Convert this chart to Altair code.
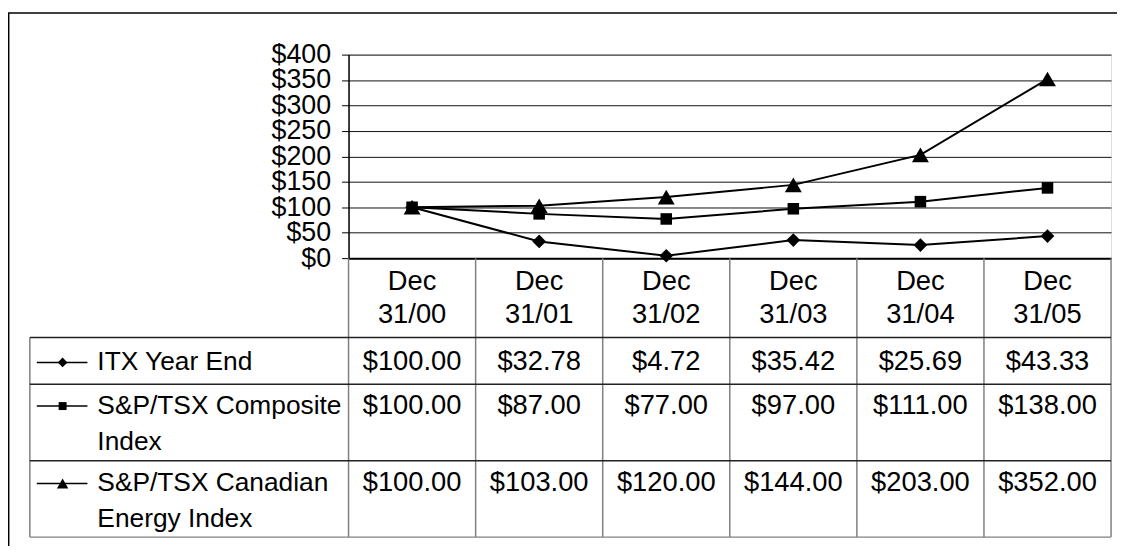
import altair as alt
import pandas as pd

# ---------------- data ----------------
dates = ["Dec 31/00", "Dec 31/01", "Dec 31/02", "Dec 31/03", "Dec 31/04", "Dec 31/05"]
series = ["ITX Year End", "S&P/TSX Composite Index", "S&P/TSX Canadian Energy Index"]
legend_labels = ["ITX Year End", "S&P/TSX Composite\nIndex", "S&P/TSX Canadian\nEnergy Index"]
itx = [100.00, 32.78, 4.72, 35.42, 25.69, 43.33]
composite = [100.00, 87.00, 77.00, 97.00, 111.00, 138.00]
energy = [100.00, 103.00, 120.00, 144.00, 203.00, 352.00]
y_ticks = [0, 50, 100, 150, 200, 250, 300, 350, 400]
shapes = ["diamond", "square", "triangle-up"]

values_by_series = [itx, composite, energy]
df = pd.DataFrame(
    [{"series": s, "date": d, "value": v}
     for s, vals in zip(series, values_by_series)
     for d, v in zip(dates, vals)]
)
df_dates = pd.DataFrame({"date": dates})
df_leg = pd.DataFrame({"series": series, "label": legend_labels})
one = pd.DataFrame({"k": [0]})

# ---------------- layout / style (px, relative to plot area top-left) ----------------
FONT = "Liberation Sans"
FS_AXIS = 27
FS_CELL = 27.5
FS_LEG = 26.5
W, H = 768, 205
STEP = W / len(dates)
HEADER_Y = 229
ROW_Y = [310, 354, 432]          # centre of first text line per row
ROW_LINES = [285, 332, 409]      # dark horizontal table lines
TABLE_BOTTOM = 486
TABLE_LEFT = -321
LEG_LINE = (-314, -263)
LEG_MARK_X = -288
LEG_TEXT_X = -253
LH = 36
PLOT_SIZES = [190, 135, 290]
LEG_SIZES = [95, 64, 130]

xscale = alt.Scale(type="point", domain=dates, padding=0.5)
xaxis = alt.Axis(labels=False, ticks=False, title=None, grid=False,
                 domainColor="black", domainWidth=2)
def X():
    return alt.X("date:N", scale=xscale, axis=xaxis, sort=dates)

yaxis = alt.Axis(values=y_ticks, format="$,.0f", labelFontSize=FS_AXIS, labelFont=FONT,
                 labelColor="black", labelOverlap=False, labelFlush=False,
                 labelPadding=11, tickSize=7, tickColor="black", tickWidth=1,
                 domainColor="black", domainWidth=1.5, gridColor="#111",
                 gridWidth=1, title=None, labelBaseline="middle")
yenc = alt.Y("value:Q", scale=alt.Scale(domain=[0, 400]), axis=yaxis)

base = alt.Chart(df)

layers = [base.mark_line(color="black", strokeWidth=2).encode(
    x=X(), y=yenc, detail="series:N")]

for i, s in enumerate(series):
    layers.append(base.transform_filter(alt.datum.series == s).mark_point(
        filled=True, opacity=1, color="black", shape=shapes[i], size=PLOT_SIZES[i]).encode(
        x=X(), y=yenc))

# outer frame (top & left edges)
layers.append(alt.Chart(one).mark_rule(color="black", strokeWidth=1.5).encode(
    x=alt.value(-342.3), y=alt.value(-42), y2=alt.value(520)))
layers.append(alt.Chart(one).mark_rule(color="black", strokeWidth=1.5).encode(
    x=alt.value(-343), x2=alt.value(W + 20), y=alt.value(-42)))

# table: vertical lines
layers.append(alt.Chart(df_dates).mark_rule(color="#808080", strokeWidth=1.5, xOffset=-STEP / 2).encode(
    x=X(), y=alt.value(H), y2=alt.value(TABLE_BOTTOM)))
layers.append(alt.Chart(one).mark_rule(color="#808080", strokeWidth=1.5).encode(
    x=alt.value(W), y=alt.value(H), y2=alt.value(TABLE_BOTTOM)))
layers.append(alt.Chart(one).mark_rule(color="#808080", strokeWidth=1.5).encode(
    x=alt.value(TABLE_LEFT), y=alt.value(ROW_LINES[0]), y2=alt.value(TABLE_BOTTOM)))
# table: horizontal lines
for yy in ROW_LINES:
    layers.append(alt.Chart(one).mark_rule(color="#222", strokeWidth=1.5).encode(
        x=alt.value(TABLE_LEFT), x2=alt.value(W), y=alt.value(yy)))
layers.append(alt.Chart(one).mark_rule(color="#808080", strokeWidth=1.5).encode(
    x=alt.value(TABLE_LEFT), x2=alt.value(W), y=alt.value(TABLE_BOTTOM)))

# header text
layers.append(alt.Chart(df_dates).mark_text(
    font=FONT, fontSize=FS_CELL, color="black", align="center", baseline="middle",
    lineBreak=" ", lineHeight=33).encode(
    x=X(), y=alt.value(HEADER_Y), text="date:N"))

# rows
for i, s in enumerate(series):
    ry = ROW_Y[i]
    layers.append(base.transform_filter(alt.datum.series == s).mark_text(
        font=FONT, fontSize=FS_CELL, color="black", align="center", baseline="middle").encode(
        x=X(), y=alt.value(ry), text=alt.Text("value:Q", format="$,.2f")))
    leg = alt.Chart(df_leg).transform_filter(alt.datum.series == s)
    layers.append(leg.mark_text(
        font=FONT, fontSize=FS_LEG, color="black", align="left", baseline="middle",
        lineBreak="\n", lineHeight=LH).encode(
        x=alt.value(LEG_TEXT_X), y=alt.value(ry), text="label:N"))
    layers.append(leg.mark_rule(color="black", strokeWidth=1.5).encode(
        x=alt.value(LEG_LINE[0]), x2=alt.value(LEG_LINE[1]), y=alt.value(ry)))
    layers.append(leg.mark_point(
        filled=True, opacity=1, color="black", shape=shapes[i], size=LEG_SIZES[i]).encode(
        x=alt.value(LEG_MARK_X), y=alt.value(ry)))

chart = alt.layer(*layers).properties(
    width=W, height=H,
    autosize=alt.AutoSizeParams(type="none"),
    padding={"left": 343, "top": 45, "right": 6, "bottom": 288},
).configure_view(stroke="#808080", strokeWidth=1.5).configure(font=FONT)

chart.save("out.html", embed_options={"renderer": "svg", "actions": False})
